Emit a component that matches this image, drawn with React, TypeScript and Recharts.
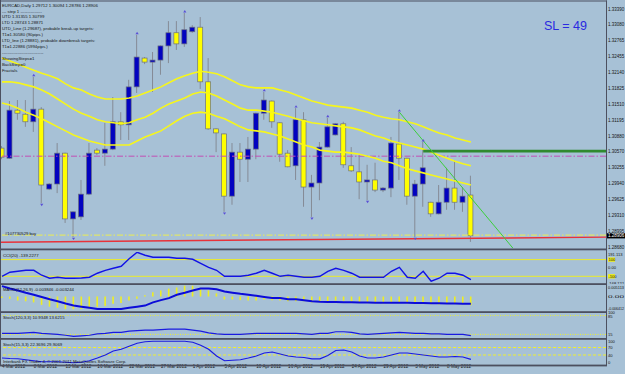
import React from "react"
import { ComposedChart, Bar, Line, Scatter, XAxis, YAxis, ReferenceLine } from "recharts"

const BG = "#a7c1d6"
const FONT = "Arial, 'Liberation Sans', sans-serif"
const GRID = "#4c5060"

// daily candles: open, high, low, close
const candles = [
  [1.3064, 1.3068, 1.3042, 1.3046], [1.3044, 1.3157, 1.3043, 1.3139], [1.3139, 1.3159, 1.3120, 1.3133],
  [1.3131, 1.3159, 1.3106, 1.3116], [1.3116, 1.3205, 1.3096, 1.3141], [1.3141, 1.3145, 1.2955, 1.2991],
  [1.2983, 1.2995, 1.2981, 1.2993], [1.2993, 1.3074, 1.2975, 1.3054], [1.3054, 1.3055, 1.2916, 1.2924],
  [1.2924, 1.2939, 1.2888, 1.2938], [1.2928, 1.3001, 1.2922, 1.2973], [1.2973, 1.3074, 1.2971, 1.3054],
  [1.3060, 1.3064, 1.3050, 1.3054], [1.3054, 1.3114, 1.3029, 1.3062], [1.3062, 1.3165, 1.3060, 1.3116],
  [1.3116, 1.3135, 1.3080, 1.3110], [1.3110, 1.3199, 1.3080, 1.3185], [1.3185, 1.3288, 1.3173, 1.3244],
  [1.3242, 1.3244, 1.3230, 1.3234], [1.3234, 1.3254, 1.3175, 1.3238], [1.3238, 1.3267, 1.3209, 1.3266],
  [1.3266, 1.3315, 1.3232, 1.3292], [1.3292, 1.3315, 1.3258, 1.3270], [1.3270, 1.3331, 1.3264, 1.3298],
  [1.3294, 1.3307, 1.3292, 1.3303], [1.3303, 1.3323, 1.3181, 1.3195], [1.3195, 1.3242, 1.3100, 1.3102],
  [1.3102, 1.3103, 1.3056, 1.3094], [1.3092, 1.3093, 1.2938, 1.2969], [1.2969, 1.3074, 1.2952, 1.3056],
  [1.3056, 1.3074, 1.2997, 1.3042], [1.3042, 1.3086, 1.2997, 1.3062], [1.3062, 1.3134, 1.3042, 1.3133],
  [1.3133, 1.3175, 1.3120, 1.3159], [1.3157, 1.3158, 1.3104, 1.3116], [1.3114, 1.3115, 1.3037, 1.3052],
  [1.3054, 1.3060, 1.3026, 1.3027], [1.3029, 1.3143, 1.3001, 1.3120], [1.3120, 1.3135, 1.2948, 1.2987],
  [1.2987, 1.3011, 1.2928, 1.2995], [1.2995, 1.3076, 1.2961, 1.3066], [1.3066, 1.3124, 1.3065, 1.3106],
  [1.3090, 1.3113, 1.3089, 1.3112], [1.3112, 1.3116, 1.3025, 1.3031], [1.3029, 1.3066, 1.3017, 1.3019],
  [1.3017, 1.3050, 1.2963, 1.2997], [1.2997, 1.3031, 1.2961, 1.3001], [1.3001, 1.3035, 1.2977, 1.2981],
  [1.2981, 1.2987, 1.2977, 1.2985], [1.2985, 1.3086, 1.2967, 1.3074], [1.3072, 1.3135, 1.3001, 1.3044],
  [1.3044, 1.3045, 1.2952, 1.2969], [1.2969, 1.3001, 1.2888, 1.2993], [1.2993, 1.3076, 1.2948, 1.3025],
  [1.2957, 1.2958, 1.2928, 1.2934], [1.2934, 1.2991, 1.2933, 1.2957], [1.2957, 1.3025, 1.2942, 1.2985],
  [1.2985, 1.3040, 1.2942, 1.2957], [1.2957, 1.2987, 1.2938, 1.2969], [1.29712, 1.30094, 1.28786, 1.28906],
]

const maUpper = [
  1.3242, 1.3236, 1.3230, 1.3224, 1.3218, 1.3212, 1.3207, 1.3201, 1.3191, 1.3183,
  1.3179, 1.3171, 1.3165, 1.3161, 1.3161, 1.3161, 1.3163, 1.3167, 1.3173, 1.3179,
  1.3185, 1.3193, 1.3201, 1.3207, 1.3212, 1.3216, 1.3214, 1.3211, 1.3205, 1.3197,
  1.3189, 1.3185, 1.3183, 1.3183, 1.3183, 1.3179, 1.3175, 1.3169, 1.3163, 1.3157,
  1.3153, 1.3149, 1.3147, 1.3145, 1.3143, 1.3139, 1.3135, 1.3129, 1.3125, 1.3122,
  1.3120, 1.3116, 1.3112, 1.3106, 1.3100, 1.3094, 1.3090, 1.3084, 1.3080, 1.3076,
]
const maMiddle = [
  1.3195, 1.3195, 1.3193, 1.3189, 1.3185, 1.3179, 1.3171, 1.3161, 1.3151, 1.3141,
  1.3133, 1.3127, 1.3120, 1.3116, 1.3114, 1.3112, 1.3114, 1.3120, 1.3125, 1.3133,
  1.3143, 1.3151, 1.3157, 1.3163, 1.3171, 1.3175, 1.3173, 1.3167, 1.3159, 1.3151,
  1.3143, 1.3139, 1.3139, 1.3137, 1.3135, 1.3131, 1.3127, 1.3122, 1.3118, 1.3114,
  1.3112, 1.3110, 1.3108, 1.3106, 1.3104, 1.3100, 1.3094, 1.3088, 1.3084, 1.3078,
  1.3074, 1.3070, 1.3066, 1.3062, 1.3056, 1.3050, 1.3044, 1.3038, 1.3033, 1.3029,
]
const maLower = [
  1.3153, 1.3149, 1.3143, 1.3135, 1.3129, 1.3122, 1.3114, 1.3106, 1.3098, 1.3090,
  1.3084, 1.3078, 1.3074, 1.3070, 1.3070, 1.3070, 1.3070, 1.3078, 1.3086, 1.3092,
  1.3098, 1.3108, 1.3118, 1.3127, 1.3133, 1.3135, 1.3133, 1.3127, 1.3122, 1.3114,
  1.3106, 1.3100, 1.3098, 1.3096, 1.3092, 1.3088, 1.3082, 1.3076, 1.3070, 1.3066,
  1.3060, 1.3058, 1.3056, 1.3056, 1.3054, 1.3052, 1.3048, 1.3044, 1.3038, 1.3035,
  1.3029, 1.3023, 1.3019, 1.3015, 1.3011, 1.3007, 1.3003, 1.2999, 1.2995, 1.2991,
]

const fractalUp = [4, 17, 23, 33, 37, 41, 50, 53]
const fractalDown = [5, 9, 28, 39, 46, 52]

const cci = [
  -100, -51, -40, -28, -28, -87, -123, -111, -123, -123,
  -120, -111, -63, -28, -4, 20, 110, 188, 152, 128,
  128, 128, 116, 116, 104, 56, 8, -28, -100, -100,
  -100, -87, -63, -28, -63, -100, -87, -100, -111, -111,
  -100, -40, -4, -28, -63, -111, -111, -111, -111, -40,
  8, -111, -123, -40, -159, -123, -63, -63, -87, -139.2277,
]
const macdHist = [
  -0.0006, -0.001, -0.0018, -0.0021, -0.0026, -0.0037, -0.0045, -0.005, -0.0056, -0.0056,
  -0.0056, -0.0053, -0.0045, -0.0042, -0.0032, -0.0029, -0.0018, -0.001, 0.0006, 0.0019,
  0.0027, 0.0035, 0.004, 0.0048, 0.0048, 0.0038, 0.0027, 0.0014, -0.0013, -0.0013,
  -0.0016, -0.0018, -0.0018, -0.0013, -0.0016, -0.0018, -0.0021, -0.0021, -0.0021, -0.0026,
  -0.0024, -0.0021, -0.0018, -0.0019, -0.0022, -0.0026, -0.0028, -0.003, -0.0031, -0.0027,
  -0.0025, -0.003, -0.0033, -0.003, -0.0034, -0.0035, -0.0033, -0.0033, -0.0033, -0.003846,
]
const macdSignal = [
  0.0046, 0.0036, 0.0027, 0.0017, 0.0008, -0.0002, -0.0012, -0.0021, -0.0031, -0.004,
  -0.0045, -0.005, -0.0055, -0.0055, -0.0055, -0.0055, -0.005, -0.0045, -0.004, -0.0026,
  -0.0016, -0.0007, 0.0008, 0.0017, 0.0027, 0.0036, 0.0036, 0.0032, 0.0022, 0.0017,
  0.0012, 0.0008, 0.0003, -0.0002, -0.0007, -0.0007, -0.0012, -0.0012, -0.0016, -0.0021,
  -0.0023, -0.0024, -0.0024, -0.0025, -0.0025, -0.0026, -0.0026, -0.0027, -0.0027, -0.0028,
  -0.0028, -0.0028, -0.0029, -0.0029, -0.003, -0.003, -0.0031, -0.0031, -0.0032, -0.003244,
]
const stochSlow = [
  19, 19, 19, 21, 23, 19, 17, 15, 12, 8,
  10, 12, 17, 19, 23, 23, 27, 29, 31, 31,
  33, 35, 35, 35, 31, 27, 21, 17, 15, 15,
  15, 17, 19, 19, 19, 19, 19, 19, 17, 15,
  19, 19, 25, 25, 23, 17, 15, 17, 19, 21,
  23, 21, 19, 19, 17, 17, 15, 15, 15, 10.93,
]
const stochFast = [
  28, 26, 25, 21, 17, 13, 13, 13, 11, 9,
  11, 17, 28, 40, 56, 63, 75, 87, 93, 95,
  95, 95, 95, 95, 91, 79, 63, 36, 17, 19,
  21, 28, 36, 48, 52, 44, 36, 32, 30, 24.5,
  24.5, 38, 58, 60, 52, 36, 28, 28, 32, 40,
  48, 48, 44, 40, 36, 32, 32, 34, 32, 22.37,
]

const dateLabels = [
  "4 Mar 2012", "8 Mar 2012", "13 Mar 2012", "16 Mar 2012", "22 Mar 2012", "27 Mar 2012", "1 Apr 2012",
  "5 Apr 2012", "10 Apr 2012", "16 Apr 2012", "19 Apr 2012", "24 Apr 2012", "29 Apr 2012", "3 May 2012", "8 May 2012",
]
const priceTicks = [
  1.3339, 1.3308, 1.32765, 1.32455, 1.3214, 1.31825, 1.3151, 1.31195,
  1.3088, 1.3057, 1.30255, 1.2994, 1.29625, 1.2931, 1.28995, 1.2868,
]
const lastClose = 1.28906
const cciTicks = [191.113, 100, 0, -100, -168.121]
const macdTicks = [0.005113, 0, -0.006412]
const stochSlowTicks = [100, 85, 15]
const stochFastTicks = [100, 70, 40, 0]

const pendingLevel = 1.3048
const orderLevel = 1.2892
const targetLevel = 1.3058
const utdLine = [{ x: 50, y: 1.3135 }, { x: 64.3, y: 1.2866 }]
const ltdLine = [{ x: -0.125, y: 1.2878 }, { x: 76, y: 1.2888 }]

const legendLines = [
  "EURCAD,Daily  1.29712 1.30094 1.28786 1.28906",
  "---  step 1  ---------------",
  "UTD  1.31355  1.30799",
  "LTD  1.28743  1.28871",
  "UTD_Line (1.29687), probable break-up targets:",
  "T1=1.30580 (90pips.)",
  "LTD_line (1.28881), probable downbreak targets:",
  "T1=1.22886 (5994pips.)",
  "-----------------------------",
  "ShowingSteps=1",
  "BackStep=0",
  "Fractals",
]

const rows = candles.map((c, i) => ({
  i,
  open: c[0], high: c[1], low: c[2], close: c[3],
  range: [c[2], c[1]],
  maU: maUpper[i], maM: maMiddle[i], maL: maLower[i],
  cci: cci[i], hist: macdHist[i], signal: macdSignal[i],
  st1: stochSlow[i], st2: stochFast[i],
}))
const upMarks = fractalUp.map((i) => ({ i, p: candles[i][1] }))
const downMarks = fractalDown.map((i) => ({ i, p: candles[i][2] }))

const X_DOMAIN = [-0.125, 76]
const AXIS_W = 19
const TXT = "#151515"

function Candle(props: any) {
  const { x, y, width, height, payload } = props
  const { open, close, high, low } = payload
  const k = height / (high - low || 1e-6)
  const cx = x + width / 2
  const top = y + (high - Math.max(open, close)) * k
  const bot = y + (high - Math.min(open, close)) * k
  const bull = close > open
  return (
    <g>
      <line x1={cx} x2={cx} y1={y} y2={y + height} stroke="#858b96" strokeWidth={1} />
      <rect x={x} y={top} width={width} height={Math.max(1, bot - top)}
        fill={bull ? "#0202c0" : "#ffff00"} stroke="#6c7180" strokeWidth={0.7} />
    </g>
  )
}

const UpArrow = (p: any) => (
  <path d={`M${p.cx},${p.cy - 3} l-1.6,2.4 h3.2 z`} fill="#5a4fd6" />
)
const DownArrow = (p: any) => (
  <path d={`M${p.cx},${p.cy + 3} l-1.6,-2.4 h3.2 z`} fill="#5a4fd6" />
)

function PriceTick(p: any) {
  const v = p.payload.value
  if (v === lastClose) {
    return (
      <g>
        <rect x={p.x - 1} y={p.y - 2.6} width={19} height={5.2} fill="#000" />
        <text x={p.x} y={p.y + 1.6} fontSize={4.5} fill="#fff">{v.toFixed(5)}</text>
      </g>
    )
  }
  return <text x={p.x} y={p.y + 1.6} fontSize={4.5} fill={TXT}>{v.toFixed(5)}</text>
}

// label maker for indicator panes: shift moves a label off the pane edge, boxed draws the level box
function makeTick(format: (v: number) => string, shift: Record<string, number>, boxed: number[] = [], fit = 0) {
  return (p: any) => {
    const v = p.payload.value
    const y = p.y + 1.5 + (shift[String(v)] || 0)
    const fitProps = fit ? { textLength: fit, lengthAdjust: "spacingAndGlyphs" as const } : {}
    if (boxed.includes(v)) {
      return (
        <g>
          <rect x={p.x} y={p.y - 2.2} width={7} height={4.4} fill="#ecec1e" />
          <text x={p.x + 0.5} y={y} fontSize={4} fill="#111">{format(v)}</text>
        </g>
      )
    }
    return <text x={p.x} y={y} fontSize={4.1} fill={TXT} {...fitProps}>{format(v)}</text>
  }
}

function DateTick(p: any) {
  const k = Math.round(p.payload.value / 4)
  return <text x={p.x} y={p.y + 3.2} fontSize={4.6} fill={TXT}>{dateLabels[k]}</text>
}

const xAxis = <XAxis type="number" dataKey="i" domain={X_DOMAIN} hide allowDataOverflow />

function yAxisProps(domain: number[], ticks: number[], tick: any) {
  return {
    orientation: "right" as const, type: "number" as const, domain, ticks, tick, width: AXIS_W,
    axisLine: false, tickLine: false, tickSize: 0, tickMargin: 2, interval: 0, allowDataOverflow: true,
  }
}

export default function App() {
  const pane = (top: number): React.CSSProperties => ({ position: "absolute", left: 0, top })
  return (
    <div style={{ position: "absolute", left: 0, top: 0, width: 625, height: 374, background: BG, overflow: "hidden", fontFamily: FONT }}>
      <div style={pane(0)}>
        <ComposedChart width={625} height={250} data={rows} margin={{ top: 2, right: 0, bottom: 2, left: 1 }}>
          {xAxis}
          <YAxis {...yAxisProps([1.28665, 1.33528], [...priceTicks, lastClose], <PriceTick />)} />
          <ReferenceLine y={pendingLevel} stroke="#c24fb4" strokeDasharray="6 2 1.5 2" />
          <ReferenceLine y={orderLevel} stroke="#eeee50" strokeDasharray="6 2 1.5 2" />
          <ReferenceLine segment={ltdLine} stroke="#e8323a" strokeWidth={1.4} ifOverflow="hidden" />
          <Line dataKey="maU" stroke="#f6f61c" strokeWidth={1.6} dot={false} isAnimationActive={false} />
          <Line dataKey="maM" stroke="#f6f61c" strokeWidth={1.6} dot={false} isAnimationActive={false} />
          <Line dataKey="maL" stroke="#f6f61c" strokeWidth={1.6} dot={false} isAnimationActive={false} />
          <Bar dataKey="range" barSize={5} isAnimationActive={false} shape={(p: any) => <Candle {...p} />} />
          <ReferenceLine segment={[{ x: 53, y: targetLevel }, { x: 76, y: targetLevel }]} stroke="#2f8a2f" strokeWidth={2.6} ifOverflow="hidden" />
          <ReferenceLine segment={utdLine} stroke="#3ccf3c" strokeWidth={1} ifOverflow="hidden" />
          <Scatter data={upMarks} dataKey="p" shape={UpArrow} isAnimationActive={false} />
          <Scatter data={downMarks} dataKey="p" shape={DownArrow} isAnimationActive={false} />
        </ComposedChart>
      </div>

      <div style={pane(250)}>
        <ComposedChart width={625} height={34} data={rows} margin={{ top: 2, right: 0, bottom: 2, left: 1 }}>
          {xAxis}
          <YAxis {...yAxisProps([-168.121, 191.113], cciTicks,
            makeTick((v) => (v === 0 ? "0.00" : String(v)), { "191.113": 2.2, "-168.121": 1 }, [100, -100]))} />
          <ReferenceLine y={100} stroke="#ecec2a" />
          <ReferenceLine y={-100} stroke="#ecec2a" />
          <Line dataKey="cci" stroke="#1212e6" strokeWidth={1.4} dot={false} isAnimationActive={false} />
        </ComposedChart>
      </div>

      <div style={pane(284)}>
        <ComposedChart width={625} height={28} data={rows} margin={{ top: 1, right: 0, bottom: 1, left: 1 }}>
          {xAxis}
          <YAxis {...yAxisProps([-0.006412, 0.005113], macdTicks,
            makeTick((v) => (v === 0 ? "0.00" : v.toFixed(6)), { "0.005113": 2.3, "-0.006412": -2.6 }, [], 16))} />
          <Bar dataKey="hist" barSize={1.6} fill="#eeee22" isAnimationActive={false} />
          <Line dataKey="signal" stroke="#0c0cd8" strokeWidth={2} dot={false} isAnimationActive={false} />
        </ComposedChart>
      </div>

      <div style={pane(311)}>
        <ComposedChart width={625} height={28} data={rows} margin={{ top: 0.5, right: 0, bottom: 0.5, left: 1 }}>
          {xAxis}
          <YAxis {...yAxisProps([0, 100], stochSlowTicks, makeTick((v) => String(v), { "100": 1.2, "85": 1.4 }))} />
          <ReferenceLine y={85} stroke="#eeee30" strokeDasharray="1 1.5" />
          <ReferenceLine y={15} stroke="#eeee30" strokeDasharray="1 1.5" />
          <Line dataKey="st1" stroke="#1a1ae0" strokeWidth={1.2} dot={false} isAnimationActive={false} />
        </ComposedChart>
      </div>

      <div style={pane(339)}>
        <ComposedChart width={625} height={35} data={rows} margin={{ top: 1, right: 0, bottom: 0, left: 1 }}>
          <XAxis type="number" dataKey="i" domain={X_DOMAIN} allowDataOverflow height={9}
            ticks={dateLabels.map((_, k) => k * 4)} interval={0} axisLine={false} tickLine={false}
            tickSize={0} tickMargin={0} tick={<DateTick />} />
          <YAxis {...yAxisProps([0, 100], stochFastTicks, makeTick((v) => String(v), { "100": 1.6, "0": -2.2 }))} />
          <ReferenceLine y={70} stroke="#eeee30" strokeDasharray="3 2" />
          <ReferenceLine y={40} stroke="#eeee30" strokeDasharray="3 2" />
          <Line dataKey="st2" stroke="#1a1ae0" strokeWidth={1.2} dot={false} isAnimationActive={false} />
        </ComposedChart>
      </div>

      <svg width={625} height={374} style={{ position: "absolute", left: 0, top: 0, pointerEvents: "none" }} fontFamily={FONT}>
        <rect x={0} y={0.5} width={607} height={1} fill={GRID} />
        <rect x={0} y={0} width={1} height={366} fill={GRID} />
        <rect x={606} y={0.5} width={1} height={365.5} fill={GRID} />
        {[248.5, 283.2, 311.2, 338, 364.6].map((y) => (
          <rect key={y} x={0} y={y} width={607} height={1.8} fill={GRID} />
        ))}
        {legendLines.map((t, k) => (
          <text key={k} x={2} y={6.6 + k * 5.9} fontSize={4.3} fill={TXT}>{t}</text>
        ))}
        <text x={544} y={30} fontSize={13.5} fill="#2a2ae0" textLength={43} lengthAdjust="spacingAndGlyphs">SL = 49</text>
        <text x={5} y={234.5} fontSize={4.2} fill={TXT}>#107730529 buy</text>
        <text x={3} y={256.5} fontSize={4.3} fill={TXT}>CCI(20) -139.2277</text>
        <text x={3} y={290.5} fontSize={4.3} fill={TXT}>MACD(12,26,9) -0.003846 -0.003244</text>
        <text x={3} y={318.5} fontSize={4.3} fill={TXT}>Stoch(120,3,3) 10.9348 13.6215</text>
        <text x={3} y={345.5} fontSize={4.3} fill={TXT}>Stoch(15,3,3) 22.3696 29.9069</text>
        <text x={3} y={362.5} fontSize={4.3} fill={TXT}>Interbank FX Trader 4, © 2001-2011 MetaQuotes Software Corp.</text>
      </svg>
    </div>
  )
}
